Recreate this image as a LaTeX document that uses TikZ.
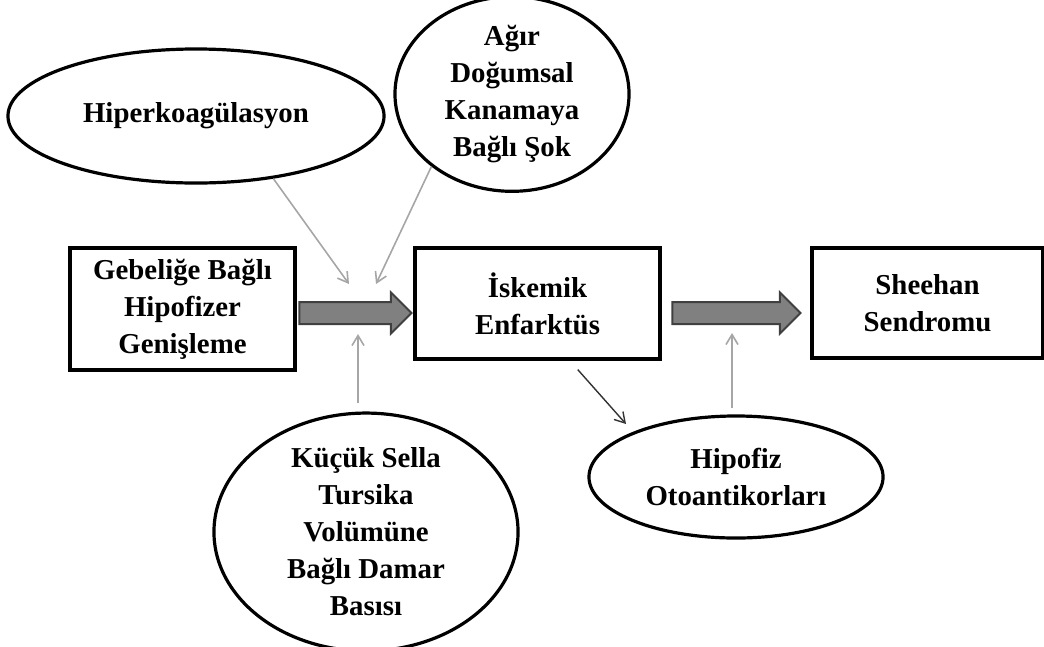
\documentclass[tikz,border=0pt]{standalone}
\usepackage{fontspec}
\setmainfont{Liberation Serif}
\usetikzlibrary{shapes.geometric,shapes.arrows,arrows.meta,calc}

\begin{document}
\begin{tikzpicture}[x=0.025cm, y=-0.025cm, font=\bfseries\fontsize{20.5}{26.3}\selectfont,
		kutu/.style={draw, line width=0.08cm, align=center, inner sep=0pt},
		elips/.style={draw, ellipse, line width=0.08cm, align=center, inner sep=0pt},
		kalinok/.style={single arrow, draw=black!75, fill=black!50, line width=0.05cm,
			minimum width=0.98cm, single arrow head extend=0.24cm, single arrow tip angle=90, inner sep=0.25cm},
		griok/.style={draw=black!35, line width=0.04cm, -{Straight Barb[length=2.5mm,width=3mm]}},
		siyahok/.style={draw=black!80, line width=0.035cm, -{Straight Barb[length=2.5mm,width=3mm]}}]
			\useasboundingbox (0,0) rectangle (1044,646);
			% Kutular
			\node[kutu, minimum width=5.625cm, minimum height=3.05cm] (gebe) at (182.5,309) {Gebeliğe Bağlı\\Hipofizer\\Genişleme};
			\node[kutu, minimum width=6.125cm, minimum height=2.775cm] (iskemik) at (537.5,303.5) {İskemik\\Enfarktüs};
			\node[kutu, minimum width=5.775cm, minimum height=2.75cm] (sheehan) at (927.5,303) {Sheehan\\Sendromu};
			% Elipsler
			\node[elips, minimum width=9.4cm, minimum height=3.35cm] (hiper) at (196,116) {Hiperkoagülasyon};
			\node[elips, minimum width=5.85cm, minimum height=4.5cm] (agir) at (512,94) {Ağır\\Doğumsal\\Kanamaya\\Bağlı Şok};
			\node[elips, minimum width=7.6cm, minimum height=5.4cm] (kucuk) at (366,532) {Küçük Sella\\Tursika\\Volümüne\\Bağlı Damar\\Basısı};
			\node[elips, minimum width=7.35cm, minimum height=3.05cm] (hipofiz) at (736,477) {Hipofiz\\Otoantikorları};
			% Kalin oklar
			\node[kalinok, minimum height=2.8cm] (ok1) at (350,313) {};
			\node[kalinok, minimum height=3.2cm] (ok2) at (731,313) {};
			% Ince oklar
			\coordinate (p1) at (349,284);
			\coordinate (p2) at (376,284);
			\coordinate (p3) at (358,334);
			\coordinate (p4) at (732,333);
			\coordinate (p5) at (626,424);
			\draw[griok] (hiper.-39) -- (p1);
			\draw[griok] (agir.222) -- (p2);
			\draw[griok, shorten <=0.2cm] (p3 |- kucuk.north) -- (p3);
			\draw[griok, shorten <=0.15cm] (p4 |- hipofiz.north) -- (p4);
			\draw[siyahok, shorten <=0.3cm] ($(iskemik.south west)!0.63!(iskemik.south east)$) -- (p5);
		\end{tikzpicture}
\end{document}
